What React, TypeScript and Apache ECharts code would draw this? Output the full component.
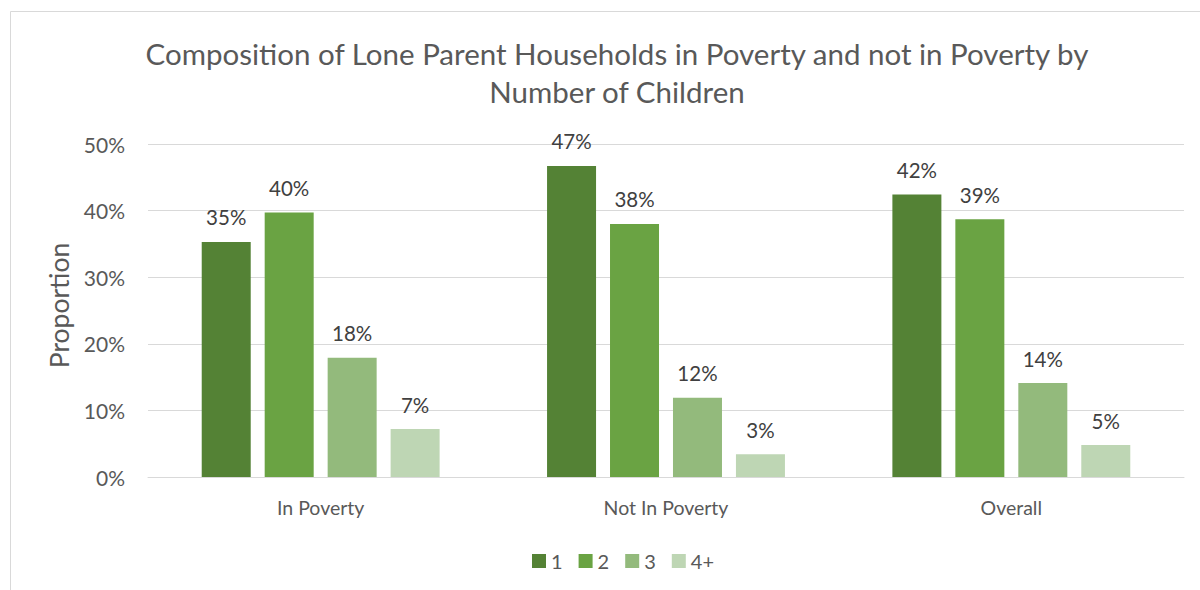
import React, { useEffect, useRef } from "react";
import * as echarts from "echarts";

const categories = ["In Poverty", "Not In Poverty", "Overall"];
const seriesNames = ["1", "2", "3", "4+"];
const children1 = [35.3, 46.7, 42.4];
const children2 = [39.7, 38.0, 38.7];
const children3 = [17.9, 11.9, 14.1];
const children4 = [7.2, 3.4, 4.8];
const yTicks = [0, 10, 20, 30, 40, 50];
const colors = ["#548235", "#6AA343", "#93BA7C", "#BED6B4"];

const FONT = "Lato";

export default function App() {
  const ref = useRef<HTMLDivElement>(null);
  useEffect(() => {
    if (!ref.current) return;
    const chart = echarts.init(ref.current, undefined, { renderer: "svg" });
    const values = [children1, children2, children3, children4];
    chart.setOption({
      animation: false,
      textStyle: { fontFamily: FONT },
      title: {
        text: "Composition of Lone Parent Households in Poverty and not in Poverty by\nNumber of Children",
        left: 612,
        textAlign: "center",
        top: 29,
        textStyle: {
          fontFamily: FONT,
          fontSize: 29.5,
          fontWeight: "normal",
          color: "#595959",
          lineHeight: 38,
        },
      },
      graphic: [
        {
          type: "rect",
          shape: { x: 10.5, y: 11.5, width: 1220, height: 620 },
          style: { fill: "none", stroke: "#d9d9d9", lineWidth: 1 },
          silent: true,
        },
      ],
      legend: {
        data: seriesNames,
        left: 527,
        top: 546,
        itemWidth: 14,
        itemHeight: 14,
        itemGap: 16,
        itemStyle: { borderWidth: 0 },
        icon: "rect",
        textStyle: { fontFamily: FONT, fontSize: 20, color: "#595959" },
      },
      grid: { left: 148, right: 16, top: 144, bottom: 113, containLabel: false },
      xAxis: {
        type: "category",
        data: categories,
        axisLine: { lineStyle: { color: "#d9d9d9", width: 1 } },
        axisTick: { show: false },
        axisLabel: { fontFamily: FONT, fontSize: 19.5, color: "#595959", margin: 20 },
      },
      yAxis: {
        type: "value",
        min: yTicks[0],
        max: yTicks[yTicks.length - 1],
        interval: 10,
        name: "Proportion",
        nameLocation: "middle",
        nameGap: 76,
        nameRotate: 90,
        nameTextStyle: { fontFamily: FONT, fontSize: 26.5, color: "#595959", padding: [0, 0, 0, 10] },
        axisLine: { show: false },
        axisTick: { show: false },
        splitLine: { lineStyle: { color: "#d9d9d9", width: 1 } },
        axisLabel: {
          fontFamily: FONT,
          fontSize: 21,
          color: "#595959",
          margin: 23,
          formatter: (v: number) => `${v}%`,
        },
      },
      series: seriesNames.map((name, i) => ({
        name,
        type: "bar",
        data: values[i],
        barWidth: 49,
        barGap: "28.5%",
        itemStyle: { color: colors[i] },
        label: {
          show: true,
          position: "top",
          distance: 14,
          fontFamily: FONT,
          fontSize: 20.5,
          color: "#404040",
          formatter: (p: any) => `${Math.round(p.value)}%`,
        },
      })),
    });
    return () => chart.dispose();
  }, []);
  return (
    <div
      ref={ref}
      style={{ position: "fixed", left: 0, top: 0, width: 1200, height: 590, background: "#fff" }}
    />
  );
}
